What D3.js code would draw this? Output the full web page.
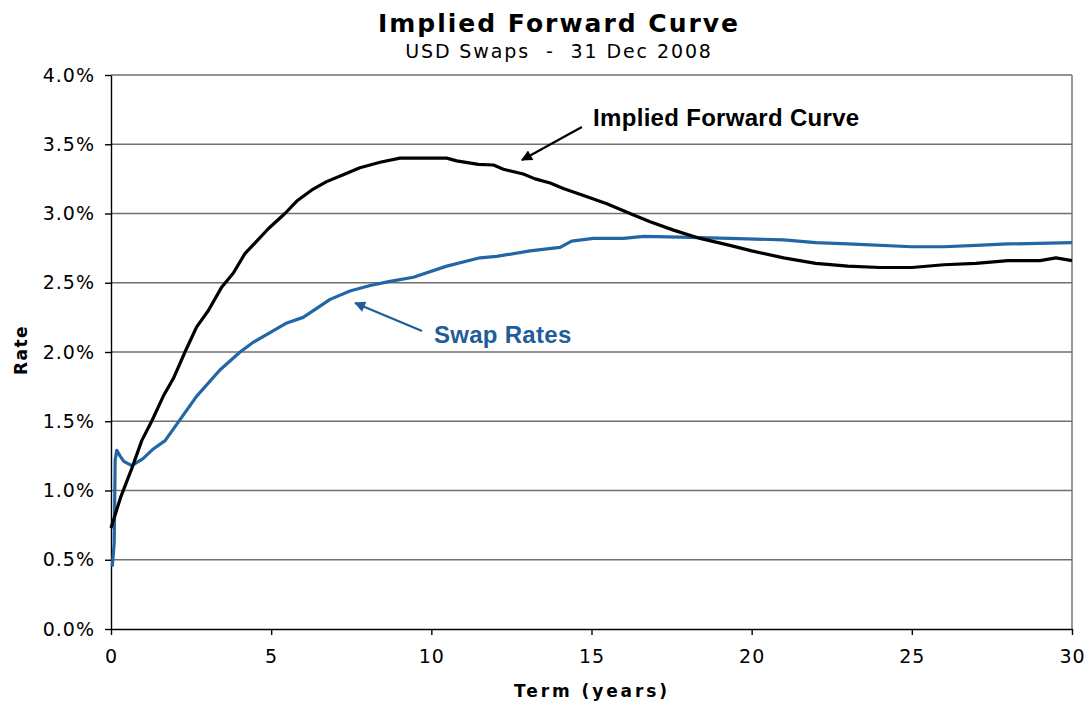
<!DOCTYPE html>
<html>
<head>
<meta charset="utf-8">
<title>Implied Forward Curve</title>
<style>
  body { margin: 0; background: #fff; }
  svg { display: block; }
  text { font-family: "DejaVu Sans", Verdana, sans-serif; }
  .grid line { stroke: #6f6f6f; stroke-width: 1.4; }
  .anno { font-family: "Liberation Sans", Arial, sans-serif; font-weight: bold; font-size: 24px; letter-spacing: 0.3px; }
</style>
</head>
<body>
<svg></svg>
<script src="https://d3js.org/d3.v7.min.js"></script>
<script>
// forward curve (years, %)
const fwdTerm = [0, 0.3, 0.65, 0.96, 1.27, 1.63, 1.95, 2.31, 2.67, 3.04, 3.46, 3.82, 4.18, 4.55, 4.91, 5.43, 5.8, 6.27, 6.73, 7.25, 7.77, 8.4, 9.02, 10.48, 10.79, 11.47, 11.94, 12.25, 12.87, 13.24, 13.71, 14.12, 14.75, 15.48, 16.2, 16.83, 17.56, 18.39, 19.32, 20, 21, 22, 23, 24, 25, 26, 27, 28, 29, 29.5, 30];
const fwdRate = [0.73, 0.95, 1.16, 1.36, 1.50, 1.68, 1.81, 2.00, 2.18, 2.30, 2.47, 2.57, 2.71, 2.80, 2.89, 3.00, 3.09, 3.17, 3.23, 3.28, 3.33, 3.37, 3.40, 3.40, 3.38, 3.355, 3.35, 3.32, 3.285, 3.25, 3.22, 3.18, 3.13, 3.07, 3.00, 2.94, 2.88, 2.82, 2.77, 2.73, 2.68, 2.64, 2.62, 2.61, 2.61, 2.63, 2.64, 2.66, 2.66, 2.68, 2.66];

// swap rates (years, %)
const swapTerm = [0.04, 0.1, 0.13, 0.18, 0.28, 0.4, 0.65, 1.0, 1.32, 1.69, 2.15, 2.67, 3.4, 4.03, 4.44, 5.49, 6.0, 6.84, 7.46, 8.09, 8.71, 9.44, 10.48, 11.52, 12.04, 13.08, 14.02, 14.38, 15.06, 16.0, 16.63, 17.76, 19.32, 21, 22, 23, 25, 26, 27, 28, 30];
const swapRate = [0.45, 0.62, 1.22, 1.29, 1.25, 1.21, 1.18, 1.23, 1.30, 1.36, 1.51, 1.68, 1.87, 2.00, 2.07, 2.21, 2.25, 2.38, 2.44, 2.48, 2.51, 2.54, 2.62, 2.68, 2.69, 2.73, 2.755, 2.80, 2.82, 2.82, 2.835, 2.83, 2.82, 2.81, 2.79, 2.78, 2.76, 2.76, 2.77, 2.78, 2.79];

const yTicks = [0, 0.5, 1, 1.5, 2, 2.5, 3, 3.5, 4];
const xTicks = [0, 5, 10, 15, 20, 25, 30];

const width = 1086, height = 704;
const margin = { top: 75, right: 14, bottom: 75, left: 111 };
const innerWidth = width - margin.left - margin.right;
const innerHeight = height - margin.top - margin.bottom;

const svg = d3.select('svg').attr('width', width).attr('height', height);

const xScale = d3.scaleLinear().domain([0, 30]).range([0, innerWidth]);
const yScale = d3.scaleLinear().domain([0, 4]).range([innerHeight, 0]);

const g = svg.append('g').attr('transform', `translate(${margin.left},${margin.top})`);

// gridlines
g.append('g').attr('class', 'grid')
  .selectAll('line').data(yTicks.slice(1)).enter().append('line')
  .attr('x1', 0).attr('x2', innerWidth)
  .attr('y1', d => yScale(d)).attr('y2', d => yScale(d));

// right border
g.append('line').attr('x1', innerWidth).attr('x2', innerWidth)
  .attr('y1', 0).attr('y2', innerHeight).attr('stroke', '#6f6f6f').attr('stroke-width', 1.4);

// axes
const yAxis = g.append('g')
  .call(d3.axisLeft(yScale).tickValues(yTicks).tickFormat(d => d.toFixed(1) + '%').tickSize(6).tickSizeOuter(0));
const xAxis = g.append('g').attr('transform', `translate(0,${innerHeight})`)
  .call(d3.axisBottom(xScale).tickValues(xTicks).tickSize(6).tickSizeOuter(0));
[yAxis, xAxis].forEach(a => {
  a.select('.domain').attr('stroke', '#000').attr('stroke-width', 1.4);
  a.selectAll('.tick line').attr('stroke', '#000').attr('stroke-width', 1.4);
  a.selectAll('.tick text').attr('font-family', '"DejaVu Sans", Verdana, sans-serif')
    .attr('font-size', 19).attr('fill', '#000').attr('letter-spacing', 1);
});
yAxis.selectAll('.tick text').attr('x', -16);
xAxis.selectAll('.tick text').attr('y', 21);

// lines
const line = d3.line().x(d => xScale(d[0])).y(d => yScale(d[1]));

g.append('path').datum(swapTerm.map((t, i) => [t, swapRate[i]]))
  .attr('d', line).attr('fill', 'none').attr('stroke', '#2266a5').attr('stroke-width', 3.2)
  .attr('stroke-linejoin', 'round');
g.append('path').datum(fwdTerm.map((t, i) => [t, fwdRate[i]]))
  .attr('d', line).attr('fill', 'none').attr('stroke', '#000').attr('stroke-width', 3.2)
  .attr('stroke-linejoin', 'round');

// arrow markers
const defs = svg.append('defs');
[['arrBlack', '#000'], ['arrBlue', '#1f5c99']].forEach(([id, c]) => {
  defs.append('marker').attr('id', id).attr('viewBox', '0 0 10 10')
    .attr('refX', 9).attr('refY', 5).attr('markerWidth', 5.5).attr('markerHeight', 5)
    .attr('orient', 'auto-start-reverse').attr('markerUnits', 'strokeWidth')
    .append('path').attr('d', 'M0,0 L10,5 L0,10 z').attr('fill', c);
});

// annotations
g.append('line')
  .attr('x1', xScale(14.7)).attr('y1', yScale(3.625))
  .attr('x2', xScale(12.83)).attr('y2', yScale(3.386))
  .attr('stroke', '#000').attr('stroke-width', 2.2).attr('marker-end', 'url(#arrBlack)');
g.append('text').attr('class', 'anno')
  .attr('x', xScale(15.05)).attr('y', yScale(3.632)).text('Implied Forward Curve');

g.append('line')
  .attr('x1', xScale(9.71)).attr('y1', yScale(2.152))
  .attr('x2', xScale(7.62)).attr('y2', yScale(2.354))
  .attr('stroke', '#1f5c99').attr('stroke-width', 2.2).attr('marker-end', 'url(#arrBlue)');
g.append('text').attr('class', 'anno').attr('fill', '#1f5c99')
  .attr('x', xScale(10.08)).attr('y', yScale(2.065)).text('Swap Rates');

// titles
svg.append('text').attr('x', 559).attr('y', 32).attr('text-anchor', 'middle')
  .attr('font-size', 25).attr('font-weight', 'bold').attr('letter-spacing', 2).text('Implied Forward Curve');
svg.append('text').attr('x', 559).attr('y', 58).attr('text-anchor', 'middle')
  .attr('font-size', 19).attr('letter-spacing', 1.9).style('white-space', 'pre')
  .text('USD Swaps  -  31 Dec 2008');
svg.append('text').attr('x', 592).attr('y', 697).attr('text-anchor', 'middle')
  .attr('font-size', 17).attr('font-weight', 'bold').attr('letter-spacing', 2.9).text('Term (years)');
svg.append('text').attr('transform', 'translate(27,350) rotate(-90)').attr('text-anchor', 'middle')
  .attr('font-size', 17).attr('font-weight', 'bold').attr('letter-spacing', 1.5).text('Rate');
</script>
</body>
</html>
